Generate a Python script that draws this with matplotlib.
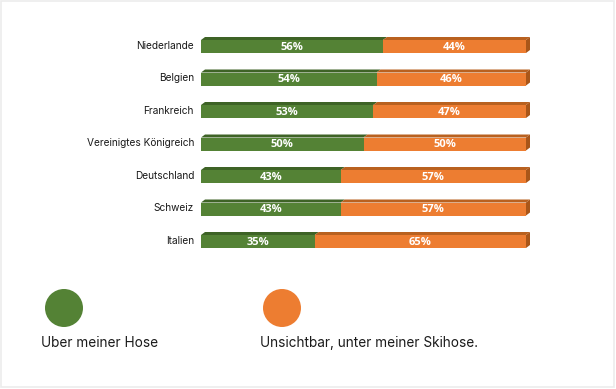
import matplotlib
matplotlib.use("Agg")
import matplotlib.pyplot as plt
from matplotlib.patches import Polygon, Ellipse, Rectangle

categories = ["Niederlande", "Belgien", "Frankreich", "Vereinigtes Königreich",
              "Deutschland", "Schweiz", "Italien"]
over_pants = [56, 54, 53, 50, 43, 43, 35]
under_pants = [44, 46, 47, 50, 57, 57, 65]
series_names = ["Uber meiner Hose", "Unsichtbar, unter meiner Skihose."]

green = "#548235"
orange = "#ED7D31"
green_top = "#3E6326"
orange_top = "#B9611F"
orange_side = "#A95619"

W, H = 616, 389
fig = plt.figure(figsize=(W / 100, H / 100), dpi=100)
fig.patch.set_facecolor("white")

# axes placement in pixels
x0_px, x1_px = 201, 526
row_top_px = 30.25
row_h = 32.5
n = len(categories)
ax_h_px = n * row_h
ax = fig.add_axes([x0_px / W, 1 - (row_top_px + ax_h_px) / H, (x1_px - x0_px) / W, ax_h_px / H])
ax.set_xlim(0, 100)
ax.set_ylim(n - 0.5, -0.5)
ax.axis("off")

bar_h = 13 / row_h
dx = 4 / (x1_px - x0_px) * 100
dy = 3 / row_h

ypos = list(range(n))
ax.barh(ypos, over_pants, height=bar_h, color=green, zorder=2)
ax.barh(ypos, under_pants, left=over_pants, height=bar_h, color=orange, zorder=2)

lab_font = ["Open Sans", "DejaVu Sans"]
for i, (g, o) in enumerate(zip(over_pants, under_pants)):
    yt = i - bar_h / 2
    yb = i + bar_h / 2
    tot = g + o
    # top faces
    ax.add_patch(Polygon([(0, yt), (g, yt), (g + dx, yt - dy), (dx, yt - dy)],
                         closed=True, facecolor=green_top, edgecolor="none", zorder=1, clip_on=False))
    ax.add_patch(Polygon([(g, yt), (tot, yt), (tot + dx, yt - dy), (g + dx, yt - dy)],
                         closed=True, facecolor=orange_top, edgecolor="none", zorder=1, clip_on=False))
    # side face
    ax.add_patch(Polygon([(tot, yt), (tot + dx, yt - dy), (tot + dx, yb - dy), (tot, yb)],
                         closed=True, facecolor=orange_side, edgecolor="none", zorder=1, clip_on=False))
    ax.text(g / 2, i + 0.03, f"{g}%", color="white", fontsize=8, fontweight="bold",
            ha="center", va="center", family=lab_font, zorder=3)
    ax.text(g + o / 2, i + 0.03, f"{o}%", color="white", fontsize=8, fontweight="bold",
            ha="center", va="center", family=lab_font, zorder=3)
    ax.text(-7 / (x1_px - x0_px) * 100, i - 0.03, categories[i], color="#1a1a1a", fontsize=7.3,
            ha="right", va="center", family=["Inter", "DejaVu Sans"], clip_on=False)

# legend drawn in figure pixel space
lax = fig.add_axes([0, 0, 1, 1])
lax.set_xlim(0, W)
lax.set_ylim(H, 0)
lax.axis("off")
lax.add_patch(Ellipse((64, 308), 38, 38, facecolor=green, edgecolor="none"))
lax.add_patch(Ellipse((282, 308), 38, 38, facecolor=orange, edgecolor="none"))
lax.text(41, 343, series_names[0], fontsize=9.8, color="#1a1a1a", ha="left", va="center",
         family=["Inter", "DejaVu Sans"])
lax.text(260, 343, series_names[1], fontsize=9.8, color="#1a1a1a", ha="left", va="center",
         family=["Inter", "DejaVu Sans"])
lax.add_patch(Rectangle((0.5, 0.5), W - 2.5, H - 2.5, facecolor="none", edgecolor="#ececec", lw=1.2))

fig.savefig("out.png", dpi=100, facecolor="white")
